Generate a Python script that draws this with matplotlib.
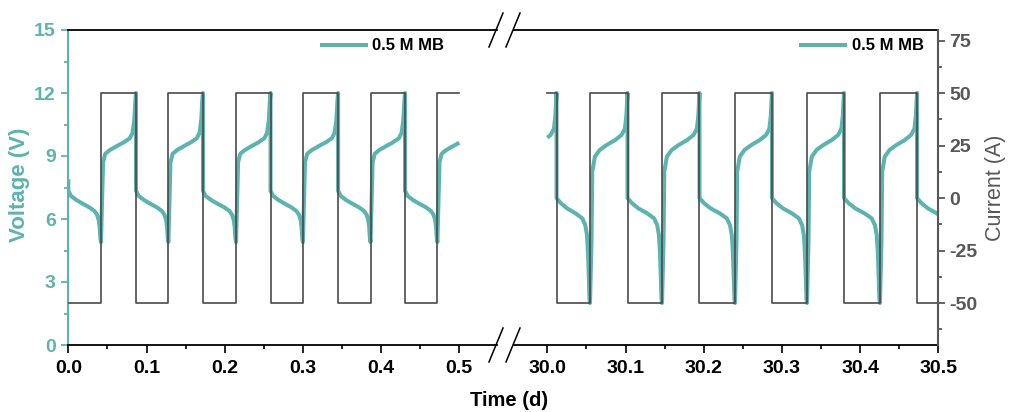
import numpy as np
import matplotlib
matplotlib.use("Agg")
import matplotlib.pyplot as plt
from matplotlib.lines import Line2D

plt.rcParams["font.family"] = ["Liberation Sans", "DejaVu Sans"]
plt.rcParams["font.weight"] = "bold"
plt.rcParams["axes.unicode_minus"] = False

TEAL = "#5DB3AE"
SQUARE = "#4A4A4A"
RIGHT_AXIS = "#575757"

# ---- data -------------------------------------------------------------
series_label = "0.5 M MB"
current_level = 50.0                     # A, applied +/- current
voltage_limits = (0, 15)                 # V
current_limits = (-70, 80)               # A
voltage_ticks = [0, 3, 6, 9, 12, 15]
current_ticks = [-50, -25, 0, 25, 50, 75]

left_window = (0.0, 0.5)
right_window = (30.0, 30.5)
left_ticks = [0.0, 0.1, 0.2, 0.3, 0.4, 0.5]
right_ticks = [30.0, 30.1, 30.2, 30.3, 30.4, 30.5]

# switching times (d): current steps to +50 A ("on") and to -50 A ("off")
left_on = [0.0418, 0.1280, 0.2145, 0.3000, 0.3865, 0.4720]
left_off = [0.0000, 0.0866, 0.1722, 0.2586, 0.3450, 0.4306, 0.5165]
left_start_voltage = 7.9

right_on = [29.9645, 30.0546, 30.1467, 30.2400, 30.3321, 30.4254, 30.5170]
right_off = [30.0118, 30.1026, 30.1946, 30.2873, 30.3794, 30.4728]

# voltage profiles within one half cycle (fraction of step, volts)
left_charge_f = [0.00, 0.06, 0.12, 0.25, 0.45, 0.65, 0.82, 0.90, 0.95, 0.98, 1.00]
left_charge_v = [4.90, 8.70, 9.10, 9.28, 9.47, 9.65, 9.84, 10.10, 10.70, 11.60, 12.00]
left_dis_f = [0.00, 0.08, 0.25, 0.45, 0.65, 0.80, 0.88, 0.93, 0.96, 0.98, 1.00]
left_dis_v = [7.35, 7.10, 6.90, 6.72, 6.55, 6.38, 6.20, 5.95, 5.60, 5.10, 4.90]

right_charge_f = [0.00, 0.04, 0.06, 0.13, 0.26, 0.44, 0.67, 0.84, 0.93, 0.97, 1.00]
right_charge_v = [2.00, 4.90, 8.25, 8.97, 9.29, 9.52, 9.76, 10.00, 10.30, 10.95, 12.00]
right_dis_f = [0.00, 0.13, 0.32, 0.57, 0.77, 0.86, 0.91, 0.94, 0.96, 0.985, 1.00]
right_dis_v = [7.00, 6.75, 6.50, 6.27, 6.03, 5.71, 5.24, 4.44, 3.49, 2.20, 2.00]


# ---- helpers ----------------------------------------------------------
def build(on, off, charge, discharge, start_voltage=None):
    events = sorted([(t, "on") for t in on] + [(t, "off") for t in off])
    tv, vv, tc, cc = [], [], [], []
    for (a, kind), (b, _) in zip(events[:-1], events[1:]):
        f, v = charge if kind == "on" else discharge
        tv.extend(a + np.asarray(f) * (b - a))
        vv.extend(v)
        level = current_level if kind == "on" else -current_level
        tc.extend([a, b])
        cc.extend([level, level])
    if start_voltage is not None:
        tv.insert(0, tv[0])
        vv.insert(0, start_voltage)
    return (np.array(tv), np.array(vv)), (np.array(tc), np.array(cc))


def window(t, y, lo, hi):
    keep = (t >= lo) & (t <= hi)
    tt, yy = t[keep], y[keep]
    if t[0] < lo < tt[0]:
        tt = np.r_[lo, tt]
        yy = np.r_[np.interp(lo, t, y), yy]
    if tt[-1] < hi < t[-1]:
        tt = np.r_[tt, hi]
        yy = np.r_[yy, np.interp(hi, t, y)]
    return tt, yy


# ---- figure -----------------------------------------------------------
W, H = 1009, 412
fig = plt.figure(figsize=(W / 100, H / 100), dpi=100)


def px_axes(x0, x1, y0, y1):
    return fig.add_axes([x0 / W, 1 - y1 / H, (x1 - x0) / W, (y1 - y0) / H])


px_per_day = 782.0
axL = px_axes(68.3, 496.5, 30, 345)
axR = px_axes(513.5, 938.3, 30, 345)
axL.set_xlim(0.0, (496.5 - 68.3) / px_per_day)
axR.set_xlim(30.0 - (547.3 - 513.5) / px_per_day, 30.5)

panels = [
    (axL, left_window, left_ticks,
     build(left_on, left_off, (left_charge_f, left_charge_v),
           (left_dis_f, left_dis_v), left_start_voltage)),
    (axR, right_window, right_ticks,
     build(right_on, right_off, (right_charge_f, right_charge_v),
           (right_dis_f, right_dis_v))),
]

twins = []
handles = []
for ax, (lo, hi), ticks, ((tv, vv), (tc, cc)) in panels:
    tw = ax.twinx()
    twins.append(tw)
    t1, v1 = window(tv, vv, lo, hi)
    t2, c2 = window(tc, cc, lo, hi)
    ln, = ax.plot(t1, v1, color=TEAL, lw=2.9, solid_capstyle="butt",
                  solid_joinstyle="round")
    handles.append(ln)
    tw.plot(t2, c2, color=SQUARE, lw=1.2)
    ax.set_ylim(*voltage_limits)
    tw.set_ylim(*current_limits)

    ax.set_xticks(ticks)
    ax.set_xticklabels([f"{t:.1f}" for t in ticks])
    ax.set_xticks([t + 0.05 for t in ticks[:-1]], minor=True)
    ax.tick_params(axis="x", which="major", direction="out", length=5.5,
                   width=1.2, labelsize=14, pad=5, colors="black")
    ax.tick_params(axis="x", which="minor", direction="out", length=3,
                   width=1.2)
    for s in ("top", "bottom"):
        ax.spines[s].set_linewidth(1.3)
        ax.spines[s].set_color("black")
    for s in tw.spines.values():
        s.set_visible(False)

# left panel: voltage axis
axL.spines["right"].set_visible(False)
axL.spines["left"].set_color(TEAL)
axL.spines["left"].set_linewidth(1.5)
axL.set_yticks(voltage_ticks)
axL.set_yticks([v + 1.5 for v in voltage_ticks[:-1]], minor=True)
axL.tick_params(axis="y", which="major", direction="out", length=5,
                width=1.3, colors=TEAL, labelsize=14, pad=4)
axL.tick_params(axis="y", which="minor", direction="out", length=3,
                width=1.3, colors=TEAL)
twins[0].set_yticks([])

# right panel: current axis
axR.spines["left"].set_visible(False)
axR.spines["right"].set_visible(False)
axR.set_yticks([])
twR = twins[1]
twR.spines["right"].set_visible(True)
twR.spines["right"].set_color(RIGHT_AXIS)
twR.spines["right"].set_linewidth(1.5)
twR.set_yticks(current_ticks)
twR.set_yticks([c + 12.5 for c in current_ticks[:-1]] + [-62.5], minor=True)
twR.tick_params(axis="y", which="major", direction="out", length=5,
                width=1.3, colors=RIGHT_AXIS, labelsize=14, pad=3)
twR.tick_params(axis="y", which="minor", direction="out", length=3,
                width=1.3, colors=RIGHT_AXIS)

# axis titles
fig.text(20 / W, 1 - 185 / H, "Voltage (V)", rotation=90, ha="center",
         va="center", color=TEAL, fontsize=16, fontweight="bold")
fig.text(995 / W, 1 - 188 / H, "Current (A)", rotation=90, ha="center",
         va="center", color=RIGHT_AXIS, fontsize=15.5, fontweight="normal")
fig.text(509 / W, 1 - 401 / H, "Time (d)", ha="center", va="center",
         color="black", fontsize=14.5, fontweight="bold")

# legends
for tw, x0 in ((twins[0], 320), (twins[1], 799)):
    tw.legend([handles[0]], [series_label], loc="center left",
              bbox_to_anchor=(x0 / W, 1 - 46 / H),
              bbox_transform=fig.transFigure, frameon=False, borderpad=0,
              borderaxespad=0, handlelength=2.9, handletextpad=0.25,
              prop={"weight": "bold", "size": 12})

# axis-break marks
for cy in (30, 345):
    for cx in (496.0, 513.0):
        fig.add_artist(Line2D([(cx - 7) / W, (cx + 7) / W],
                              [1 - (cy + 17) / H, 1 - (cy - 17) / H],
                              transform=fig.transFigure, color="black",
                              lw=1.1))

fig.savefig("out.png", dpi=100)
